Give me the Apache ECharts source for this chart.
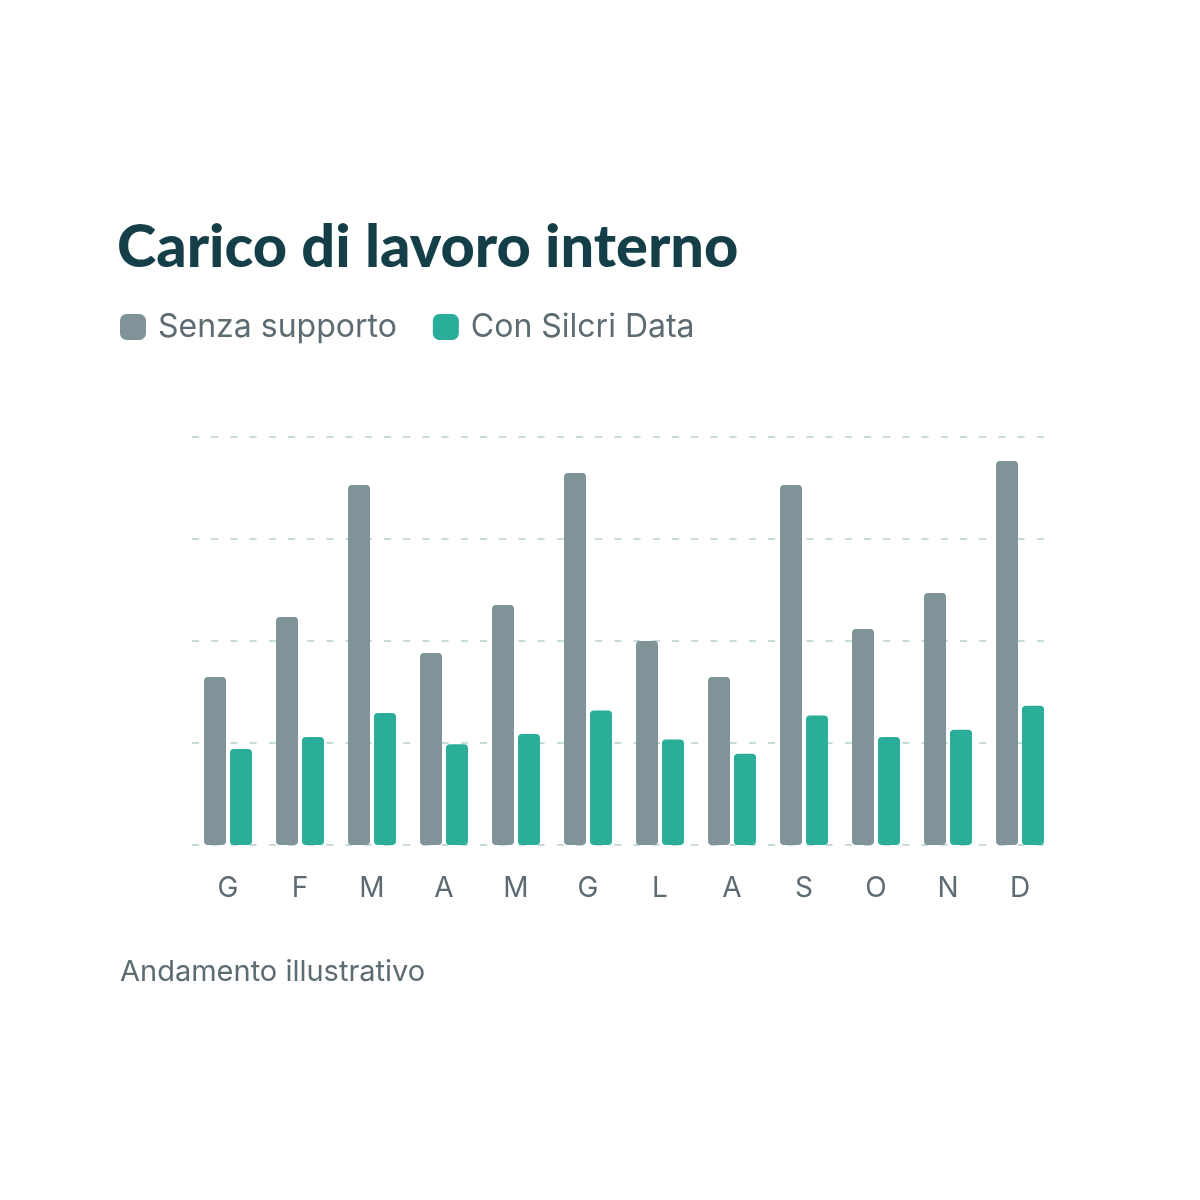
<!DOCTYPE html>
<html>
<head>
<meta charset="utf-8">
<script src="https://cdn.jsdelivr.net/npm/echarts@6/dist/echarts.min.js"></script>
<style>
  html, body { margin: 0; padding: 0; background: #ffffff; }
  #chart { width: 1200px; height: 1200px; }
</style>
</head>
<body>
<div id="chart"></div>
<script>
// Data
const months = ['G', 'F', 'M', 'A', 'M', 'G', 'L', 'A', 'S', 'O', 'N', 'D'];
const senzaSupporto = [14, 19, 30, 16, 20, 31, 17, 14, 30, 18, 21, 32];
const conSilcriData = [8, 9, 11, 8.4, 9.25, 11.2, 8.8, 7.6, 10.8, 9, 9.6, 11.6];
const seriesNames = ['Senza supporto', 'Con Silcri Data'];
const titleText = 'Carico di lavoro interno';
const footnoteText = 'Andamento illustrativo';

const chart = echarts.init(document.getElementById('chart'), null, { renderer: 'canvas' });
const textColor = '#5d6b72';
const option = {
  backgroundColor: '#ffffff',
  animation: false,
  title: {
    text: titleText,
    left: 117,
    top: 218,
    padding: 0,
    textStyle: {
      fontFamily: 'Lato',
      fontWeight: 900,
      fontSize: 59.5,
      lineHeight: 60,
      color: '#153f48'
    }
  },
  legend: {
    left: 120,
    top: 311,
    padding: 0,
    itemWidth: 26,
    itemHeight: 26,
    itemGap: 36,
    icon: 'roundRect',
    data: seriesNames,
    textStyle: {
      fontFamily: 'Inter',
      fontSize: 32,
      color: textColor,
      padding: [0, 0, 0, 7]
    }
  },
  grid: {
    left: 192,
    right: 144,
    top: 437,
    bottom: 355,
    containLabel: false
  },
  xAxis: {
    type: 'category',
    data: months,
    axisLine: { show: false },
    axisTick: { show: false },
    axisLabel: {
      fontFamily: 'Inter',
      fontSize: 28,
      color: textColor,
      margin: 30
    }
  },
  yAxis: {
    type: 'value',
    min: 0,
    max: 34,
    interval: 8.5,
    axisLabel: { show: false },
    axisLine: { show: false },
    axisTick: { show: false },
    splitLine: {
      lineStyle: { color: '#c6dcd7', width: 2, type: [7, 12.2] }
    }
  },
  series: [
    {
      name: seriesNames[0],
      type: 'bar',
      data: senzaSupporto,
      barWidth: 22,
      barGap: '18%',
      itemStyle: { color: '#7f9399', borderRadius: 4 }
    },
    {
      name: seriesNames[1],
      type: 'bar',
      data: conSilcriData,
      barWidth: 22,
      itemStyle: { color: '#2aae9a', borderRadius: 4 }
    }
  ],
  graphic: [
    {
      type: 'text',
      left: 120,
      top: 958,
      style: {
        text: footnoteText,
        fontFamily: 'Inter',
        fontSize: 29,
        fill: textColor
      }
    }
  ]
};
chart.setOption(option);
</script>
</body>
</html>
